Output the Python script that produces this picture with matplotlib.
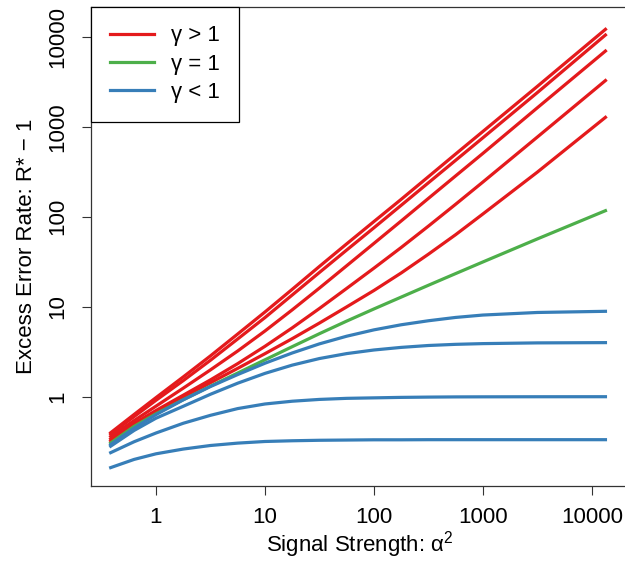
import matplotlib
matplotlib.use("Agg")
import matplotlib.pyplot as plt

plt.rcParams['font.family'] = ['Liberation Sans', 'DejaVu Sans']
plt.rcParams['mathtext.fontset'] = 'custom'
plt.rcParams['mathtext.rm'] = 'Liberation Sans'

# signal strength alpha^2 (x) and excess error R* - 1 for each curve
alpha2 = [0.384, 0.63, 1, 1.78, 3.16, 5.62, 10, 17.8, 31.6, 56.2, 100, 178, 316,
          562, 1000, 3160, 13340]

gamma_gt1 = [
    [0.398, 0.635, 0.977, 1.66, 2.84, 4.97, 8.73, 15.6, 28.0, 49.9, 88.3, 156,
     278, 497, 885, 2805, 12080],
    [0.383, 0.601, 0.912, 1.51, 2.54, 4.38, 7.57, 13.5, 24.0, 42.6, 75.3, 134,
     238, 423, 753, 2393, 10450],
    [0.361, 0.543, 0.785, 1.245, 1.986, 3.22, 5.37, 9.23, 16.1, 28.5, 50.5, 89.7,
     159.6, 284, 505, 1622, 6934],
    [0.339, 0.505, 0.703, 1.040, 1.538, 2.33, 3.63, 5.82, 9.55, 15.96, 26.8,
     45.5, 78.5, 137.4, 242.7, 767, 3258],
    [0.322, 0.492, 0.679, 0.989, 1.429, 2.065, 3.006, 4.416, 6.58, 9.95, 15.14,
     23.71, 38.28, 63.1, 107.2, 312.6, 1271],
]
gamma_eq1 = [0.306, 0.468, 0.646, 0.927, 1.309, 1.832, 2.570, 3.597, 5.012,
             6.918, 9.441, 12.79, 17.30, 23.33, 31.41, 56.62, 116.7]
gamma_lt1 = [
    [0.294, 0.448, 0.632, 0.923, 1.297, 1.762, 2.355, 3.062, 3.864, 4.70, 5.53,
     6.30, 6.98, 7.60, 8.08, 8.63, 8.89],
    [0.282, 0.422, 0.577, 0.783, 1.064, 1.413, 1.816, 2.244, 2.655, 3.013, 3.304,
     3.532, 3.707, 3.819, 3.890, 3.963, 3.990],
    [0.239, 0.316, 0.395, 0.507, 0.621, 0.738, 0.830, 0.891, 0.933, 0.959, 0.971,
     0.983, 0.990, 0.995, 0.997, 0.999, 1.0],
    [0.163, 0.201, 0.232, 0.262, 0.287, 0.305, 0.318, 0.324, 0.328, 0.330, 0.332,
     0.332, 0.333, 0.333, 0.333, 0.333, 0.333],
]

ticks = [1, 10, 100, 1000, 10000]
tick_labels = ["1", "10", "100", "1000", "10000"]

red = "#E41A1C"
green = "#4DAF4A"
blue = "#377EB8"
lw = 2.3

fig = plt.figure(figsize=(6.25, 5.62), dpi=100)
ax = fig.add_axes([0.1453, 0.1361, 0.86, 0.8523])

for i, ys in enumerate(gamma_gt1):
    ax.plot(alpha2, ys, color=red, lw=lw, label="γ > 1" if i == 0 else None)
ax.plot(alpha2, gamma_eq1, color=green, lw=lw, label="γ = 1")
for i, ys in enumerate(gamma_lt1):
    ax.plot(alpha2, ys, color=blue, lw=lw, label="γ < 1" if i == 0 else None)

ax.set_xscale("log")
ax.set_yscale("log")
ax.set_xlim(0.2523, 21630)
ax.set_ylim(0.1031, 21660)

ax.set_xticks(ticks)
ax.set_xticklabels(tick_labels)
ax.set_yticks(ticks)
ax.set_yticklabels(tick_labels, rotation=90, va="center")
ax.minorticks_off()
ax.tick_params(axis="both", direction="out", length=6.5, width=0.8,
               labelsize=16, color="#333333")
ax.tick_params(axis="x", pad=9)
ax.tick_params(axis="y", pad=10)

for s in ax.spines.values():
    s.set_linewidth(0.9)
    s.set_color("#333333")

ax.set_xlabel("Signal Strength: α$^2$", fontsize=16, labelpad=1)
ax.set_ylabel("Excess Error Rate: R* \u2212 1", fontsize=16, labelpad=7)

leg = ax.legend(loc="upper left", bbox_to_anchor=(0, 1), borderaxespad=0,
                fancybox=False, framealpha=1, edgecolor="black", fontsize=16,
                handlelength=2.0, handletextpad=0.75, labelspacing=0.32,
                borderpad=0.85)
leg.get_frame().set_linewidth(0.9)

fig.savefig("out.png", dpi=100)
